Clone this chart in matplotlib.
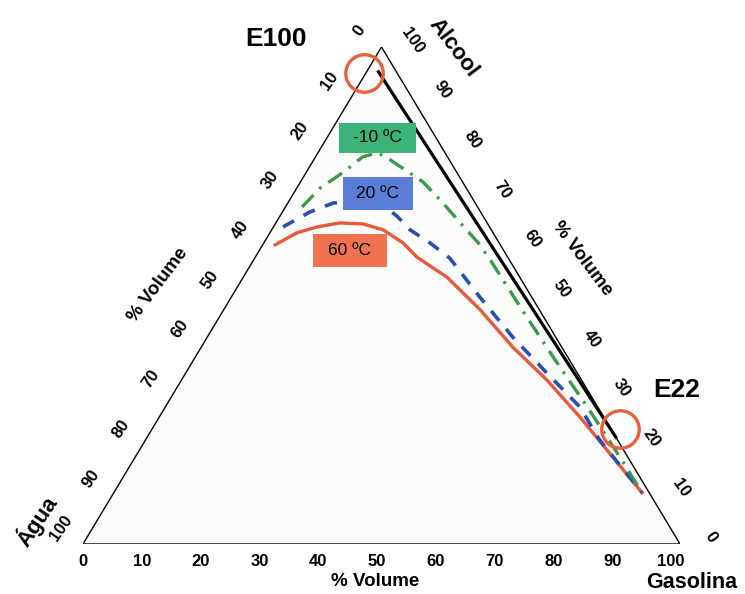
import numpy as np
import matplotlib
matplotlib.use('Agg')
from matplotlib import pyplot as plt
from matplotlib.patches import Polygon, Rectangle

plt.rcParams['font.family'] = ['Liberation Sans', 'DejaVu Sans']

# composicoes em % volume: gasolina (g) e alcool (a), agua = 100 - g - a
# curva binodal a 60 ºC
red_g = [2.1, 4.5, 7.3, 10.7, 14.7, 18.7, 23.3, 27.1, 34.1, 43.0, 52.2, 61.2, 70.4, 88.5]
red_a = [60.2, 62.6, 63.8, 64.6, 64.4, 63.2, 60.6, 57.7, 53.7, 47.1, 39.6, 33.0, 25.6, 10.3]
# curva binodal a 20 ºC
blue_g = [1.6, 4.6, 7.6, 11.9, 17.1, 19.7, 23.2, 27.8, 32.7, 41.6, 51.2, 60.5, 69.4, 76.1, 88.5]
blue_a = [63.8, 66.8, 68.6, 69.0, 67.6, 65.9, 63.2, 60.6, 57.5, 49.7, 41.6, 34.4, 27.6, 20.9, 10.3]
# curva binodal a -10 ºC
green_g = [2.8, 3.9, 6.2, 7.9, 10.0, 12.8, 17.5, 20.6, 25.5, 30.9, 35.9, 39.5, 50.0, 60.6, 71.3, 82.2, 88.5]
green_a = [67.8, 71.6, 74.8, 77.9, 78.7, 77.3, 74.6, 72.8, 69.0, 64.6, 60.6, 57.3, 47.1, 37.0, 27.0, 16.5, 10.3]

# linha de mistura E100 -> E22
mix_g = [2, 78.5]
mix_a = [95, 21.5]
# circulos E100 e E22
circ_g = [-0.3, 78.4]
circ_a = [94.8, 23.1]

ticks = [0, 10, 20, 30, 40, 50, 60, 70, 80, 90, 100]


def tern(g, a):
    g = np.asarray(g, float)
    a = np.asarray(a, float)
    return g + a / 2, a


fig = plt.figure(figsize=(7.45, 5.94), dpi=100)
ax = fig.add_axes([83 / 745, 50 / 594, 597 / 745, 497 / 594])
ax.set_xlim(0, 100)
ax.set_ylim(0, 100)
ax.axis('off')

# triangulo
tri = Polygon([[0, 0], [100, 0], [50, 100]], closed=True, fc='#fcfcfd', ec='black', lw=1.0, zorder=1)
ax.add_patch(tri)

# linha E100 - E22
x, y = tern(mix_g, mix_a)
ax.plot(x, y, color='black', lw=2.3, zorder=3)

# curvas
x, y = tern(red_g, red_a)
ax.plot(x, y, color='#e8583a', lw=2.4, zorder=4, solid_joinstyle='round')
x, y = tern(blue_g, blue_a)
ax.plot(x, y, color='#2a4fb0', lw=2.6, ls=(0, (3.5, 3.0)), zorder=4)
x, y = tern(green_g, green_a)
ax.plot(x, y, color='#3a9a48', lw=2.4, ls=(0, (5, 2.5, 0.8, 2.5)), zorder=4)

# circulos
x, y = tern(circ_g, circ_a)
ax.plot(x, y, 'o', ms=27, mfc='none', mec='#e8603c', mew=2.4, zorder=5, clip_on=False)

# caixas de temperatura
boxes = [(49.4, 81.7, 12.9, 6.2, '#3cb478', '-10 ºC'),
         (49.4, 70.6, 11.7, 6.6, '#5a7dd8', '20 ºC'),
         (44.7, 59.0, 12.4, 6.6, '#f0734f', '60 ºC')]
for cx, cy, w, h, c, t in boxes:
    ax.add_patch(Rectangle((cx - w / 2, cy - h / 2), w, h, fc=c, ec='none', zorder=6))
    ax.text(cx, cy, t, ha='center', va='center', fontsize=12.5, zorder=7)

# rotulos dos eixos (valores)
tk = dict(fontsize=12, fontweight='bold', ha='center', va='center', clip_on=False)
for v in ticks:
    ax.text(v * 0.985, -3.6, str(v), **tk)
    # alcool no lado direito
    ax.text(100 - v / 2 + 5.2, v + 1.3, str(v), rotation=-55, **tk)
    # agua no lado esquerdo
    ax.text((100 - v) / 2 - 3.7, 100 - v + 3.2, str(v), rotation=55, **tk)

lb = dict(fontweight='bold', ha='center', va='center', clip_on=False)
ax.text(48.9, -7.6, '% Volume', fontsize=13.5, **lb)
ax.text(102.0, -7.8, 'Gasolina', fontsize=15.5, **lb)
ax.text(83.6, 57.5, '% Volume', fontsize=13.5, rotation=-53, **lb)
ax.text(12.6, 52.1, '% Volume', fontsize=13.5, rotation=53, **lb)
ax.text(62.0, 99.8, 'Alcool', fontsize=16, rotation=-53, **lb)
ax.text(-7.7, 4.6, 'Água', fontsize=16, rotation=56, **lb)
ax.text(32.3, 101.6, 'E100', fontsize=19, **lb)
ax.text(99.5, 31.0, 'E22', fontsize=19, **lb)

plt.savefig('out.png', dpi=100)
